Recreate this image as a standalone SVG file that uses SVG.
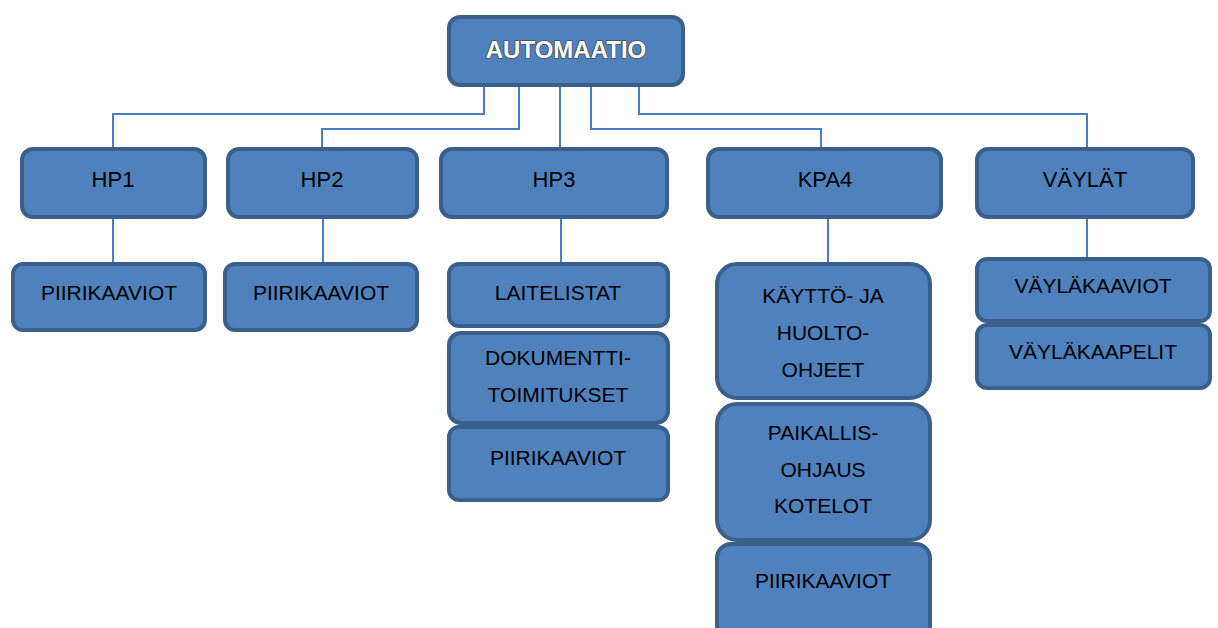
<svg xmlns="http://www.w3.org/2000/svg" width="1218" height="628" viewBox="0 0 1218 628">
<defs>
<style>
.box{fill:#4F81BD;stroke:#3A5F8B;stroke-width:4}
.t{font-family:"Liberation Sans",Arial,sans-serif;font-size:21px;fill:#000;text-anchor:middle}
.t2{font-family:"Liberation Sans",Arial,sans-serif;font-size:22px;fill:#000;text-anchor:middle}
.title{font-family:"Liberation Sans",Arial,sans-serif;font-size:24px;font-weight:bold;fill:#fff;text-anchor:middle;stroke:#4a4a4a;stroke-width:1.6;paint-order:stroke;stroke-linejoin:round}
.c{fill:none;stroke:#4A7EC0;stroke-width:2}
</style>
</defs>
<rect width="1218" height="628" fill="#fff"/>
<g id="connectors">
<path class="c" d="M484 87V114H113V150"/>
<path class="c" d="M519 87V129H322V150"/>
<path class="c" d="M560 87V150"/>
<path class="c" d="M591 87V129H821V150"/>
<path class="c" d="M639 87V114H1087V150"/>
<path class="c" d="M113 217V264"/>
<path class="c" d="M323 217V264"/>
<path class="c" d="M561 217V264"/>
<path class="c" d="M828 200V264"/>
<path class="c" d="M1087 200V259"/>
</g>
<g id="automaatio"><rect class="box" x="449" y="17" width="234" height="68" rx="11"/><text class="title" x="566" y="58">AUTOMAATIO</text></g>
<g id="hp1"><rect class="box" x="22" y="149" width="183" height="68" rx="11"/><text class="t2" x="113" y="187">HP1</text></g>
<g id="hp2"><rect class="box" x="228" y="149" width="189" height="68" rx="11"/><text class="t2" x="322" y="187">HP2</text></g>
<g id="hp3"><rect class="box" x="441" y="149" width="226" height="68" rx="11"/><text class="t2" x="554" y="187">HP3</text></g>
<g id="kpa4"><rect class="box" x="708" y="149" width="233" height="68" rx="11"/><text class="t2" x="825" y="187">KPA4</text></g>
<g id="vaylat"><rect class="box" x="977" y="149" width="216" height="68" rx="11"/><text class="t2" x="1085" y="187">VÄYLÄT</text></g>
<g id="hp1-piirikaaviot"><rect class="box" x="13" y="264" width="192" height="66" rx="10"/><text class="t" x="109" y="300">PIIRIKAAVIOT</text></g>
<g id="hp2-piirikaaviot"><rect class="box" x="225" y="264" width="192" height="66" rx="10"/><text class="t" x="321" y="300">PIIRIKAAVIOT</text></g>
<g id="laitelistat"><rect class="box" x="449" y="264" width="219" height="62" rx="10"/><text class="t" x="558" y="300">LAITELISTAT</text></g>
<g id="dokumentti"><rect class="box" x="449" y="333" width="219" height="90" rx="12"/><text class="t" x="558" y="365">DOKUMENTTI-</text><text class="t" x="558" y="402">TOIMITUKSET</text></g>
<g id="hp3-piirikaaviot"><rect class="box" x="449" y="427" width="219" height="73" rx="10"/><text class="t" x="558" y="465">PIIRIKAAVIOT</text></g>
<g id="kaytto"><rect class="box" x="717" y="264" width="213" height="134" rx="20"/><text class="t" x="823" y="303">KÄYTTÖ- JA</text><text class="t" x="823" y="340">HUOLTO-</text><text class="t" x="823" y="377">OHJEET</text></g>
<g id="paikallis"><rect class="box" x="717" y="404" width="213" height="136" rx="20"/><text class="t" x="823" y="440">PAIKALLIS-</text><text class="t" x="823" y="477">OHJAUS</text><text class="t" x="823" y="513">KOTELOT</text></g>
<g id="kpa4-piirikaaviot"><rect class="box" x="717" y="544" width="213" height="95" rx="14"/><text class="t" x="823" y="588">PIIRIKAAVIOT</text></g>
<g id="vaylakaaviot"><rect class="box" x="977" y="259" width="233" height="62" rx="10"/><text class="t" x="1093" y="293">VÄYLÄKAAVIOT</text></g>
<g id="vaylakaapelit"><rect class="box" x="977" y="325" width="233" height="63" rx="10"/><text class="t" x="1093" y="359">VÄYLÄKAAPELIT</text></g>
</svg>
